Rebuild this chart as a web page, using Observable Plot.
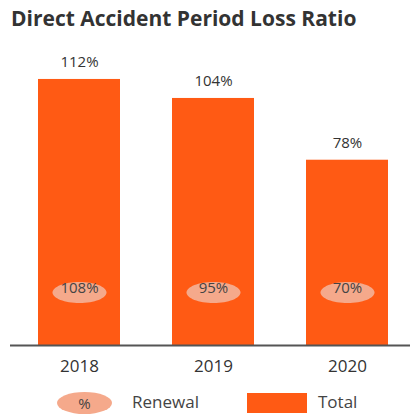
<!DOCTYPE html>
<html><head><meta charset="utf-8">
<script src="https://cdn.jsdelivr.net/npm/d3@7"></script>
<script src="https://cdn.jsdelivr.net/npm/@observablehq/plot@0.6"></script>
<style>
body{margin:0;background:#fff;font-family:"Open Sans",sans-serif;width:410px;height:419px;overflow:hidden}
#title{height:40px;position:relative}
#title span{position:absolute;left:11px;top:4px;font-weight:700;font-size:21px;color:#333;white-space:nowrap}
#chart svg{display:block}
#legend{position:relative;height:34px;color:#444}
#legend div{position:absolute}
</style></head><body>
<div id="title"><span>Direct Accident Period Loss Ratio</span></div>
<div id="chart"></div>
<div id="legend">
  <div style="left:57px;top:7px;width:55px;height:22px;border-radius:50%;background:#f5a98b;text-align:center;line-height:22px;font-size:15px;">%</div>
  <div style="left:132px;top:6px;line-height:22px;font-size:17px;">Renewal</div>
  <div style="left:247px;top:8px;width:60px;height:20px;background:#ff5a14;"></div>
  <div style="left:318px;top:6px;line-height:22px;font-size:17px;">Total</div>
</div>
<script>
const years = ["2018", "2019", "2020"];
const total = [112, 104, 78];
const renewal = [108, 95, 70];
const data = years.map((year, i) => ({year, total: total[i], renewal: renewal[i]}));

const ellipse = {draw(ctx) {
  const rx = 27, ry = 10.5, k = 0.5523;
  ctx.moveTo(-rx, 0);
  ctx.bezierCurveTo(-rx, -ry * k, -rx * k, -ry, 0, -ry);
  ctx.bezierCurveTo(rx * k, -ry, rx, -ry * k, rx, 0);
  ctx.bezierCurveTo(rx, ry * k, rx * k, ry, 0, ry);
  ctx.bezierCurveTo(-rx * k, ry, -rx, ry * k, -rx, 0);
  ctx.closePath();
}};

const chart = Plot.plot({
  width: 410, height: 345,
  marginLeft: 10, marginRight: 0, marginTop: 0, marginBottom: 40,
  style: {fontFamily: "Open Sans", fontSize: "15px", color: "#333", background: "white"},
  x: {domain: years, range: [15, 410], paddingInner: 0.39, paddingOuter: 0.1636, label: null},
  y: {domain: [0, 128.4], range: [305, 0], axis: null},
  marks: [
    Plot.barY(data, {x: "year", y: "total", fill: "#ff5a14"}),
    Plot.ruleY([0], {stroke: "#555", strokeWidth: 2}),
    Plot.text(data, {x: "year", y: "total", text: d => d.total + "%", dy: -17, fontSize: 15, fill: "#333"}),
    Plot.dot(data, {x: "year", frameAnchor: "bottom", dy: -53, symbol: ellipse, fill: "#f5a98b"}),
    Plot.text(data, {x: "year", frameAnchor: "bottom", dy: -53, text: d => d.renewal + "%", fontSize: 15, fill: "#444"}),
    Plot.axisX({tickSize: 0, tickPadding: 14, fontSize: 17, color: "#333"})
  ]
});
document.getElementById("chart").appendChild(chart);
</script>
</body></html>
